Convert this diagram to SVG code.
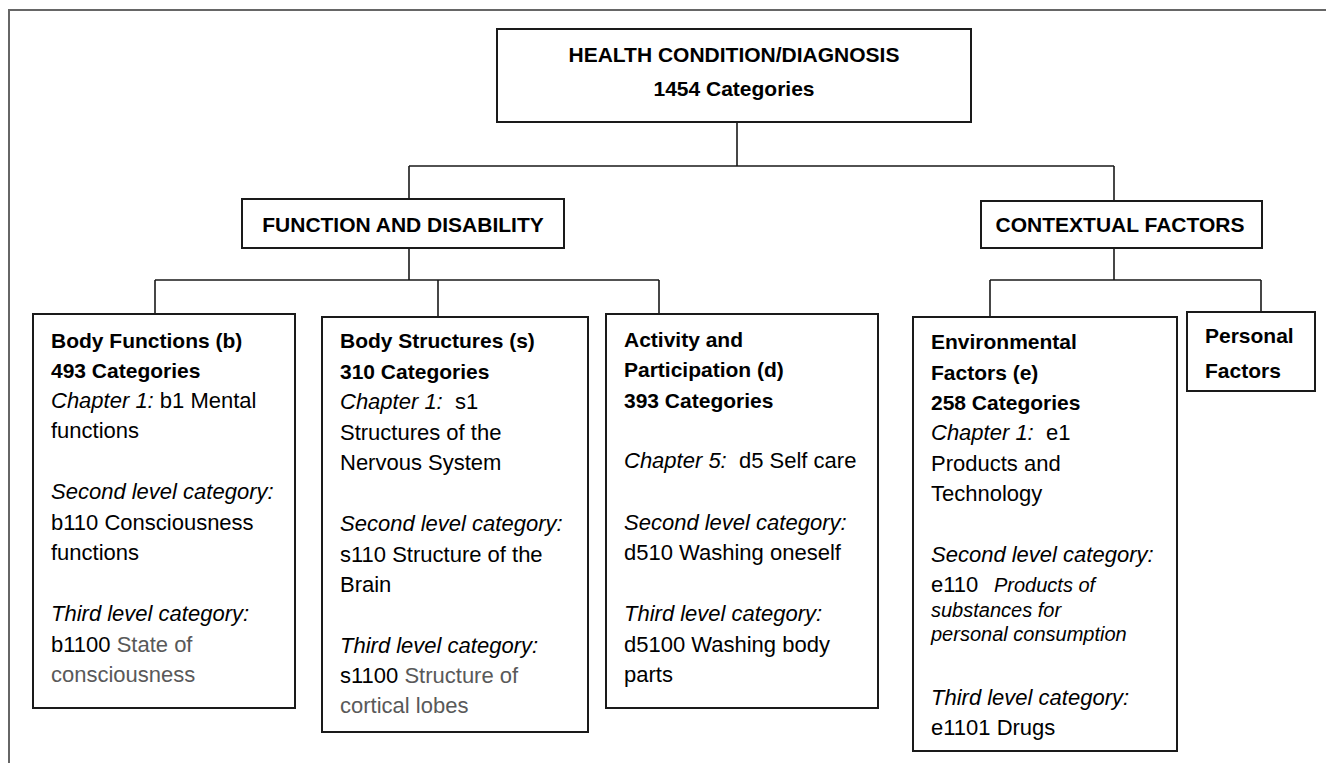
<svg xmlns="http://www.w3.org/2000/svg" width="1326" height="763" viewBox="0 0 1326 763">
<style>
.box{fill:#fff;stroke:#1a1a1a;stroke-width:2}
.frame{fill:none;stroke:#666;stroke-width:2}
.con{fill:none;stroke:#1a1a1a;stroke-width:1.6}
.b{font-family:"Liberation Sans",Arial,sans-serif;font-weight:bold;font-size:21px;fill:#000}
.r{font-family:"Liberation Sans",Arial,sans-serif;font-size:22px;fill:#000}
.i{font-style:italic}
.g{fill:#595959}
.s{font-size:20px;font-style:italic}
</style>
<rect width="1326" height="763" fill="#fff"/>
<path class="frame" d="M9,763 V10 H1326"/>
<g id="connectors">
<path class="con" d="M737,122 V166 M409,166 H1114 M409,166 V199 M1114,166 V201"/>
<path class="con" d="M409,248 V280 M155,280 H659 M155,280 V314 M438,280 V317 M659,280 V314"/>
<path class="con" d="M1114,248 V280 M990,280 H1261 M990,280 V317 M1261,280 V312"/>
</g>
<g id="health">
<rect class="box" x="497" y="29" width="474" height="93"/>
<text class="b" x="734" text-anchor="middle"><tspan x="734" y="62">HEALTH CONDITION/DIAGNOSIS</tspan><tspan x="734" y="96">1454 Categories</tspan></text>
</g>
<g id="function">
<rect class="box" x="242" y="199" width="322" height="49"/>
<text class="b" x="403" y="232" text-anchor="middle">FUNCTION AND DISABILITY</text>
</g>
<g id="contextual">
<rect class="box" x="981" y="201" width="281" height="47"/>
<text class="b" x="1120" y="232" text-anchor="middle">CONTEXTUAL FACTORS</text>
</g>
<g id="bodyfunctions">
<rect class="box" x="33" y="314" width="262" height="394"/>
<text class="b"><tspan x="51" y="348">Body Functions (b)</tspan><tspan x="51" y="378">493 Categories</tspan></text>
<text class="r"><tspan x="51" y="408"><tspan class="i">Chapter 1:</tspan> b1 Mental</tspan><tspan x="51" y="438">functions</tspan><tspan x="51" y="499" class="i">Second level category:</tspan><tspan x="51" y="530">b110 Consciousness</tspan><tspan x="51" y="560">functions</tspan><tspan x="51" y="621" class="i">Third level category:</tspan><tspan x="51" y="652">b1100 <tspan class="g">State of</tspan></tspan><tspan x="51" y="682" class="g">consciousness</tspan></text>
</g>
<g id="bodystructures">
<rect class="box" x="322" y="317" width="266" height="415"/>
<text class="b"><tspan x="340" y="348">Body Structures (s)</tspan><tspan x="340" y="379">310 Categories</tspan></text>
<text class="r" xml:space="preserve"><tspan x="340" y="409"><tspan class="i">Chapter 1:</tspan>  s1</tspan><tspan x="340" y="440">Structures of the</tspan><tspan x="340" y="470">Nervous System</tspan><tspan x="340" y="531" class="i">Second level category:</tspan><tspan x="340" y="562">s110 Structure of the</tspan><tspan x="340" y="592">Brain</tspan><tspan x="340" y="653" class="i">Third level category:</tspan><tspan x="340" y="683">s1100 <tspan class="g">Structure of</tspan></tspan><tspan x="340" y="713" class="g">cortical lobes</tspan></text>
</g>
<g id="activity">
<rect class="box" x="606" y="314" width="272" height="394"/>
<text class="b"><tspan x="624" y="347">Activity and</tspan><tspan x="624" y="377">Participation (d)</tspan><tspan x="624" y="408">393 Categories</tspan></text>
<text class="r" xml:space="preserve"><tspan x="624" y="468"><tspan class="i">Chapter 5:</tspan>  d5 Self care</tspan><tspan x="624" y="530" class="i">Second level category:</tspan><tspan x="624" y="560">d510 Washing oneself</tspan><tspan x="624" y="621" class="i">Third level category:</tspan><tspan x="624" y="652">d5100 Washing body</tspan><tspan x="624" y="682">parts</tspan></text>
</g>
<g id="environmental">
<rect class="box" x="913" y="317" width="264" height="434"/>
<text class="b"><tspan x="931" y="349">Environmental</tspan><tspan x="931" y="380">Factors (e)</tspan><tspan x="931" y="410">258 Categories</tspan></text>
<text class="r" xml:space="preserve"><tspan x="931" y="440"><tspan class="i">Chapter 1:</tspan>  e1</tspan><tspan x="931" y="471">Products and</tspan><tspan x="931" y="501">Technology</tspan><tspan x="931" y="562" class="i">Second level category:</tspan><tspan x="931" y="592">e110</tspan><tspan x="994" y="592" class="s">Products of</tspan><tspan x="931" y="617" class="s">substances for</tspan><tspan x="931" y="641" class="s">personal consumption</tspan><tspan x="931" y="705" class="i">Third level category:</tspan><tspan x="931" y="735">e1101 Drugs</tspan></text>
</g>
<g id="personal">
<rect class="box" x="1187" y="312" width="128" height="79"/>
<text class="b"><tspan x="1205" y="343">Personal</tspan><tspan x="1205" y="378">Factors</tspan></text>
</g>
</svg>
